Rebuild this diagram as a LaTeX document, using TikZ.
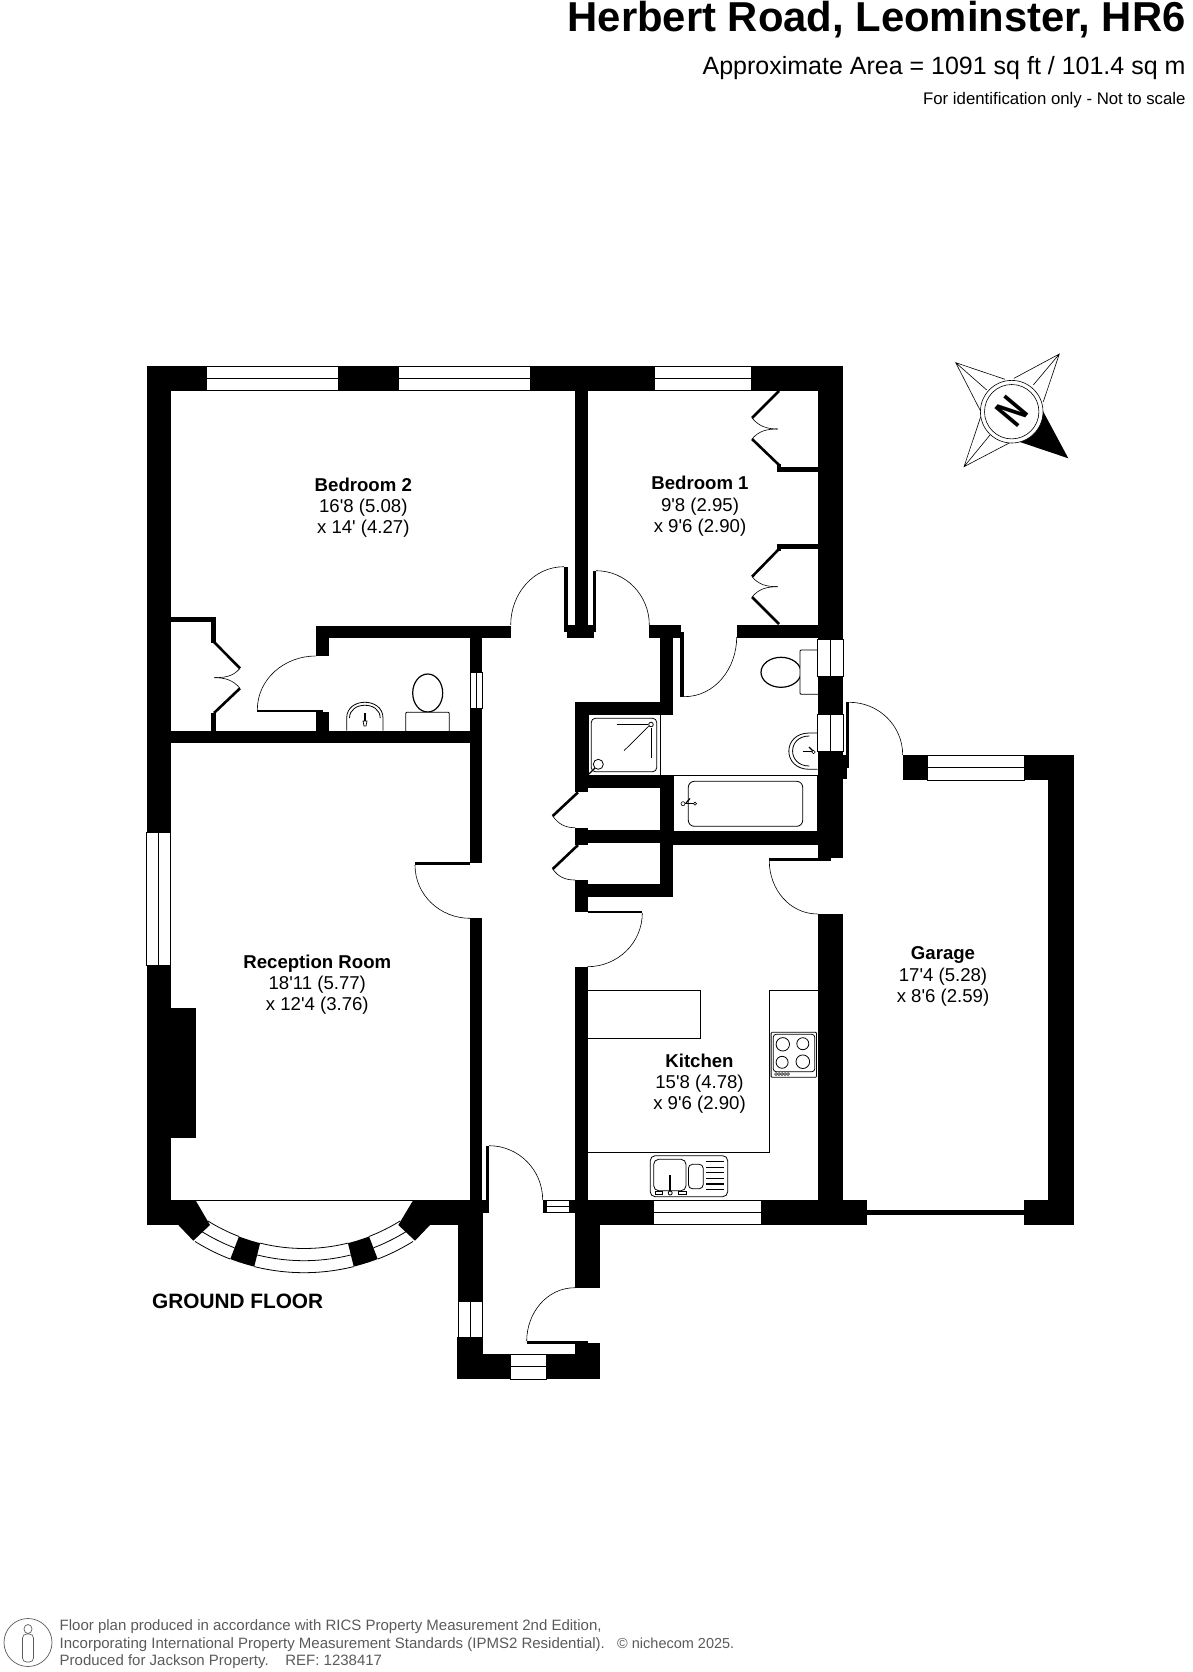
\documentclass[tikz,border=0pt]{standalone}
\usepackage{fontspec}
\newfontfamily\planfont{Liberation Sans}
\definecolor{footgray}{HTML}{5A5A5A}
\begin{document}
\begin{tikzpicture}[
      x=1pt, y=-1pt,
      wall/.style={fill=black, draw=none},
      pane/.style={draw=black, fill=white, line width=0.6pt},
      swing/.style={draw=black, line width=0.6pt},
      leaf/.style={draw=black, line width=2.6pt},
      fixture/.style={draw=black, fill=white, line width=0.8pt},
      room/.style={align=center, inner sep=0pt, font=\planfont\fontsize{18.6}{21.2}\selectfont},
      head/.style={inner sep=0pt, anchor=base east, font=\planfont},
      foot/.style={anchor=base west, inner sep=0pt, text=footgray, font=\planfont\fontsize{15}{17}\selectfont}
    ]
      \useasboundingbox (0,0) rectangle (1192,1672);

      % worktops and sanitary ware
      \draw[fixture] (586,990) rectangle (700.5,1038.3);
      \draw[fixture,fill=none] (817.9,990) -- (769.4,990) -- (769.4,1152) -- (586,1152);
      \draw[fixture,rounded corners=1pt] (771.1,1032.3) rectangle (816.5,1077.3);
      \draw[fixture,rounded corners=3pt] (773.2,1034.3) rectangle (814.8,1071.7);
      \foreach \cx/\cy/\rr in {782.8/1044.3/6.7, 802.8/1043.7/6, 782.1/1062.3/6, 802.8/1061.7/6.8} {
        \draw[fixture] (\cx,\cy) circle[radius=\rr pt];
      }
      \foreach \cx in {776,779,782,785,788} {
        \draw[fixture,line width=0.5pt] (\cx,1074) circle[radius=1.4pt];
      }
      \draw[fixture,rounded corners=5pt] (650.2,1155.7) rectangle (727.7,1196.7);
      \draw[fixture,rounded corners=5pt] (653.7,1159.3) rectangle (686,1190.7);
      \draw[fixture,rounded corners=4pt] (688.4,1164.3) rectangle (703.2,1188.7);
      \foreach \yy in {1161.7,1167.3,1172.7,1178.3,1184,1189.3} {
        \draw[line width=1.3pt] (706,\yy) -- (723.6,\yy);
      }
      \draw[line width=1.6pt] (670.2,1175) -- (670.2,1191);
      \draw[fixture] (670.2,1193) circle[radius=2pt];
      \draw[fixture] (655,1191.5) rectangle (662,1194.5);
      \draw[fixture] (678,1191.5) rectangle (686,1194.5);

      \draw[fixture] (588,714.7) rectangle (660.7,775.3);
      \draw[fixture,rounded corners=4pt] (591.3,718.3) rectangle (656.7,771.7);
      \draw[line width=1.2pt] (616.7,724.3) -- (648,724.3);
      \draw[line width=1.2pt] (651.7,728) -- (651.7,758);
      \draw[line width=0.7pt] (624,750.7) -- (650,725);
      \draw[fixture] (651,724.5) circle[radius=2.3pt];
      \draw[line width=1.2pt] (589,774) -- (597,766);
      \draw[fixture] (598.3,764.3) circle[radius=5pt];

      \draw[fixture] (673,775.3) rectangle (817.7,831.7);
      \draw[fixture,rounded corners=6pt] (688.3,781.3) rectangle (802.7,826.3);
      \draw[line width=1.4pt] (685,803.7) -- (694,803.7);
      \draw[line width=1.2pt] (686,803) -- (690,798.5);
      \draw[fixture,line width=0.6pt] (683,803.7) circle[radius=2pt];
      \draw[fixture,line width=0.6pt] (695,803.7) circle[radius=1.6pt];

      \draw[fixture] (346.7,730.7) -- (346.7,718) .. controls (346.7,697) and (383,697) .. (383,718) -- (383,730.7);
      \draw[fixture,fill=none] (349.5,718) .. controls (349.5,701) and (380.2,701) .. (380.2,718);
      \draw[line width=2pt] (365,713) -- (365,721);
      \draw[fixture,line width=0.7pt] (363,721) -- (367,721) -- (366,726) -- (364,726) -- cycle;

      \draw[fixture,line width=1.2pt] (427.7,693) ellipse[x radius=15pt, y radius=19pt];
      \draw[fixture,rounded corners=1pt] (405.7,712.3) rectangle (449.3,732);
      \draw[fixture,line width=1.2pt] (781,672.3) ellipse[x radius=20pt, y radius=15pt];
      \draw[fixture,rounded corners=1pt] (800,650) rectangle (819,694.3);
      \draw[fixture] (817.7,733) -- (809.3,733) .. controls (782,733) and (782,769.3) .. (809.3,769.3) -- (817.7,769.3);
      \draw[fixture,fill=none] (809.3,736) .. controls (787,736) and (787,766) .. (809.3,766);
      \draw[line width=1.4pt] (802.5,751.5) -- (812,751.5);
      \draw[line width=1.2pt] (809,747) -- (813,751);
      \draw[fixture,line width=0.6pt] (813.5,752) circle[radius=1.8pt];

      % walls
      \foreach \xa/\ya/\xb/\yb in {
          146.7/366/843.3/390.7, 146.7/366/170.7/1225, 817.7/366/843.3/858.3,
          575/390/588/637.5, 564/566.7/567.5/632, 593/570.7/596/632,
          564/625/596/632, 567/632/594/637.5,
          315.7/625.5/510.7/637.5, 315.7/625.5/329/656, 315.7/711.7/329/730.7,
          470/625.5/482.3/743, 170.7/730.7/482.3/743.3,
          470/743/482.3/863.3, 470/918.3/482.3/1225,
          170.7/1007.7/196/1137.7, 146.7/1200/196/1225, 412.7/1200/482.7/1225,
          458.3/1200/482.7/1337.3, 457.3/1337.3/482.7/1379, 457.3/1354/510.7/1379,
          546.7/1354/600/1379, 575/1343/600/1379, 575/1200/600/1287.7,
          482/1200/488/1212.7, 542.7/1200/546/1212.7, 569.3/1200/575/1212.7,
          575.2/966.7/587.5/1225, 575/1200/866.5/1225,
          649/625/681/637.5, 660/625/673/715, 736.7/625/817.7/637.5,
          575/702/673/714.7, 575/702/588/791.7, 575/775.3/673/788,
          660/775.3/673/896.7, 575/829.7/660/842.7, 673/831.7/817.7/844.7,
          575/827.7/588/845, 575/884/673/896.7, 575/880/588/911.7,
          843/755/849.3/767.7, 843/767.7/846.7/779.3,
          817.9/914/843/1225, 1048/755/1074/1225, 902.7/755/927.5/780,
          1024/755/1074/780, 1023.8/1200/1074/1225, 866.5/1210/1023.8/1215,
          211/617/216/642.7, 170.7/617/216/621.7, 211/713/216/731,
          777/467/817.7/471.7, 777/544/817.7/549, 777/464/781/471.7, 777/544/781/551
      } {
        \fill[wall] (\xa,\ya) rectangle (\xb,\yb);
      }
      % thin door leaves
      \foreach \xa/\ya/\xb/\yb in {
          257.3/709.6/322.7/712.3, 680.3/631.7/684/696.7, 846/702.3/849.3/767.7,
          769.3/858.3/830.7/861, 415/862/470/865, 588/911/642.3/913,
          486/1145.7/489/1212.7, 526.7/1341/588/1344
      } {
        \fill[wall] (\xa,\ya) rectangle (\xb,\yb);
      }
      \fill[wall] (178.3,1225) -- (193.3,1240.7) -- (210,1225) -- (196,1201) -- (190,1200) -- (170,1215) -- cycle;
      \fill[wall] (430,1225) -- (415,1240.7) -- (398.3,1225) -- (412.7,1201) -- (420,1200) -- (440,1215) -- cycle;
      \foreach \a/\b in {104/111, 69/76} {
        \fill[wall] plot[domain=\a:\b,samples=8] ({304+205.7*cos(\x)},{1067+205.7*sin(\x)})
          -- plot[domain=\b:\a,samples=8] ({304+181.5*cos(\x)},{1067+181.5*sin(\x)}) -- cycle;
      }
      \foreach \a/\b in {111/122, 76/104, 58/69} {
        \foreach \r in {181.5,193.7,205.7} {
          \draw[line width=0.8pt] plot[domain=\a:\b,samples=16] ({304+\r*cos(\x)},{1067+\r*sin(\x)});
        }
      }
      \draw[line width=0.8pt] (196,1200) -- (412.7,1200);

      % windows
      \foreach \xa/\ya/\xb/\yb in {
          206/366/338/390.7, 398/366/530/390.7, 654.7/366/751/390.7,
          653/1200/761/1224.5, 927.5/755/1024/780, 510.7/1354/546.7/1379, 546/1200/569.3/1212.7
      } {
        \draw[pane] (\xa,\ya) rectangle (\xb,\yb);
        \draw[pane] (\xa,{(\ya+\yb)/2}) -- (\xb,{(\ya+\yb)/2});
      }
      \foreach \xa/\ya/\xb/\yb in {
          146.7/832.7/170.7/965, 470/672.7/482.3/708.3, 817.7/639.3/843.3/676,
          817.7/714.3/843.3/751, 458.3/1301.7/482.5/1337.3
      } {
        \draw[pane] (\xa,\ya) rectangle (\xb,\yb);
        \draw[pane] ({(\xa+\xb)/2},\ya) -- ({(\xa+\xb)/2},\yb);
      }

      % door swings
      \draw[swing] (510.7,625) to[out=90,in=180] (564,566.7);
      \draw[swing] (596,570.7) to[out=0,in=90] (649.3,625);
      \draw[swing] (684,696.7) to[out=0,in=-90] (736.7,637);
      \draw[swing] (257.3,710) to[out=90,in=180] (315.7,656);
      \draw[swing] (415,865) to[out=-90,in=180] (470,918.3);
      \draw[swing] (489,1145.7) to[out=0,in=90] (542.7,1200);
      \draw[swing] (526.7,1341) to[out=90,in=180] (575,1287.7);
      \draw[swing] (849.3,702.3) to[out=0,in=90] (902.7,755);
      \draw[swing] (769.3,861) to[out=-90,in=180] (817.7,914);
      \draw[swing] (642.3,913) to[out=-90,in=0] (587.5,966.7);
      \draw[swing] (552.7,816) to[out=-55,in=180] (575,827.7);
      \draw[swing] (552.7,869) to[out=-55,in=180] (575,880);
      \draw[swing] (752,418) to[out=-50,in=180] (777.7,429);
      \draw[swing] (752,439) to[out=50,in=180] (777.7,429);
      \draw[swing] (752,576.7) to[out=-50,in=180] (777.7,586.7);
      \draw[swing] (752,597) to[out=50,in=180] (777.7,586.7);
      \draw[swing] (240,668.3) to[out=230,in=0] (214.3,677.7);
      \draw[swing] (240,688.3) to[out=130,in=0] (214.3,677.7);

      % cupboard leaves
      \draw[leaf] (779,391) -- (752,418);
      \draw[leaf] (752,439) -- (779,465);
      \draw[leaf] (779,549) -- (752,576.7);
      \draw[leaf] (752,597) -- (779,624);
      \draw[leaf] (214,642) -- (240,668.3);
      \draw[leaf] (240,688.3) -- (214,713);
      \draw[leaf] (578,792.3) -- (552.7,816);
      \draw[leaf] (578,845) -- (552.7,869);

      % compass
      \foreach \px/\py/\ax/\ay/\bx/\by/\mx/\my in {
          955.7/362.7/1005/379.3/980/410/986.7/390,
          1059.3/354/1014/378.3/1043.3/401.7/1033.3/385,
          964/466.7/980.7/416.7/1011.7/441.7/990/435
      } {
        \draw[line width=0.6pt] (\ax,\ay) -- (\px,\py) -- (\bx,\by) (\px,\py) -- (\mx,\my);
      }
      \fill (1043.3,411.7) -- (1068.3,458.3) -- (1019,441.7) -- (1011.7,411.7) -- cycle;
      \draw[fill=white,line width=0.6pt] (1011.7,411.7) circle[radius=31.3pt];
      \draw[fill=white,line width=0.6pt] (1011.7,411.7) circle[radius=27.2pt];
      \node[inner sep=0pt, rotate=-130, xscale=0.7, font=\planfont\bfseries\fontsize{43}{43}\selectfont] (northmark) at (1011.7,411.7) {N};

      % room names
      \node[room] (bedroomtwo) at (363.3,507.9) {\textbf{Bedroom 2}\\16'8 (5.08)\\x 14' (4.27)};
      \node[room] (bedroomone) at (700,506.2) {\textbf{Bedroom 1}\\9'8 (2.95)\\x 9'6 (2.90)};
      \node[room] (reception) at (317.3,984.4) {\textbf{Reception Room}\\18'11 (5.77)\\x 12'4 (3.76)};
      \node[room] (kitchen) at (699.5,1083.9) {\textbf{Kitchen}\\15'8 (4.78)\\x 9'6 (2.90)};
      \node[room] (garage) at (943,976.6) {\textbf{Garage}\\17'4 (5.28)\\x 8'6 (2.59)};
      \node[inner sep=0pt, anchor=west, font=\planfont\bfseries\fontsize{20.8}{24}\selectfont] (floorname) at (152,1301) {GROUND FLOOR};

      % heading
      \node[head, font=\planfont\bfseries\fontsize{41.8}{46}\selectfont] (title) at (1185.7,31.7) {Herbert Road, Leominster, HR6};
      \node[head, font=\planfont\fontsize{25}{28}\selectfont] (area) at (1185.7,75) {Approximate Area = 1091 sq ft / 101.4 sq m};
      \node[head, font=\planfont\fontsize{16.8}{19}\selectfont] (scalenote) at (1185.7,105) {For identification only - Not to scale};

      % footer
      \begin{scope}[footgray, line width=0.7pt]
        \draw (28,1642.5) circle[radius=24pt];
        \draw (28,1629) ellipse[x radius=4pt, y radius=4.5pt];
        \draw[rounded corners=4pt] (22.5,1634) rectangle (33.5,1662);
      \end{scope}
      \node[foot] (foota) at (59.5,1630.6) {Floor plan produced in accordance with RICS Property Measurement 2nd Edition,};
      \node[foot] (footb) at (59.5,1648) {Incorporating International Property Measurement Standards (IPMS2 Residential).};
      \node[foot, font=\planfont\fontsize{14.5}{17}\selectfont] (footc) at (617,1648) {© nichecom 2025.};
      \node[foot] (footd) at (59.5,1665.6) {Produced for Jackson Property.\ \ \ \ REF: 1238417};
    \end{tikzpicture}
\end{document}
